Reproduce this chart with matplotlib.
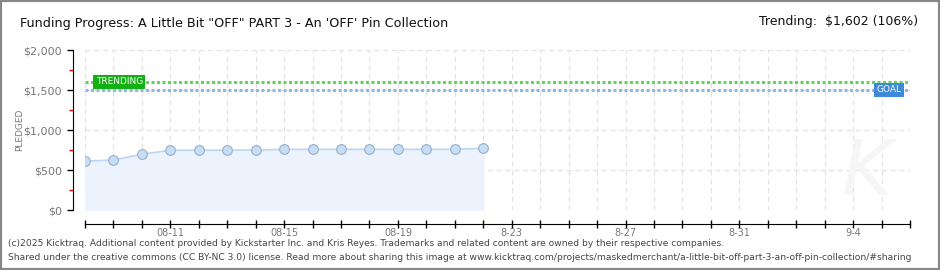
import matplotlib
matplotlib.use("Agg")
import matplotlib.pyplot as plt
import pandas as pd
from matplotlib.patches import Rectangle

# data
dates = pd.date_range("2025-08-08", "2025-08-22", freq="D")
pledged = [610, 625, 697, 747, 747, 747, 750, 758, 758, 758, 758, 758, 758, 758, 771]
goal = 1500
trending = 1602
x_start, x_end = pd.Timestamp("2025-08-08"), pd.Timestamp("2025-09-06")
label_days = ["2025-08-11", "2025-08-15", "2025-08-19", "2025-08-23",
              "2025-08-27", "2025-08-31", "2025-09-04"]
label_text = ["08-11", "08-15", "08-19", "8-23", "8-27", "8-31", "9-4"]

plt.rcParams["font.family"] = ["DejaVu Sans"]

fig = plt.figure(figsize=(9.4, 2.7), dpi=100)
ax = fig.add_axes([85 / 940, 60 / 270, 825 / 940, 160 / 270])

# grid
all_days = pd.date_range(x_start, x_end, freq="D")
ax.set_xticks(all_days)
ax.set_xticklabels(["" for _ in all_days])
ax.set_yticks([0, 500, 1000, 1500, 2000])
ax.set_yticklabels(["$0", "$500", "$1,000", "$1,500", "$2,000"])
ax.set_yticks([250, 750, 1250, 1750], minor=True)
ax.grid(True, color="#e2e2e2", linestyle=(0, (4, 3)), linewidth=0.9)
ax.set_axisbelow(True)

# series
ax.fill_between(dates, pledged, 0, color="#edf3fc", zorder=2)
ax.plot(dates, pledged, color="#bcd5f0", lw=1.2, zorder=3)
ax.plot(dates, pledged, "o", ms=7, mfc="#c6ddf6", mec="#9ab0c8", mew=0.8, zorder=4)

ax.axhline(trending, color="#62d45f", lw=2.2, linestyle=(0, (1, 0.8)), zorder=3)
ax.axhline(goal, color="#8fb8e8", lw=2.2, linestyle=(0, (1, 0.8)), zorder=3)

ax.text(pd.Timestamp("2025-08-08 09:00"), trending, "TRENDING", color="white",
        fontsize=6.5, va="center", ha="left", zorder=5,
        bbox=dict(boxstyle="square,pad=0.25", fc="#12b012", ec="none"))
ax.text(pd.Timestamp("2025-09-05 17:00"), goal, "GOAL", color="white",
        fontsize=6.5, va="center", ha="right", zorder=5,
        bbox=dict(boxstyle="square,pad=0.3", fc="#3d8ada", ec="none"))

ax.set_xlim(x_start, x_end)
ax.set_ylim(0, 2000)

for s in ["top", "right"]:
    ax.spines[s].set_visible(False)
ax.spines["left"].set_position(("outward", 9))
ax.spines["bottom"].set_position(("outward", 10))
ax.spines["left"].set_bounds(0, 2000)
ax.tick_params(axis="y", which="major", direction="out", length=4, width=1,
               colors="black", labelcolor="#777777", labelsize=8)
ax.tick_params(axis="y", which="minor", direction="out", length=3, width=1,
               colors="#e00000")
ax.tick_params(axis="x", which="major", direction="inout", length=6, width=1)

for d, t in zip(label_days, label_text):
    ax.annotate(t, (pd.Timestamp(d), 0), xycoords=("data", "axes fraction"),
                xytext=(0, -16.5), textcoords="offset points", ha="center",
                va="center", fontsize=7, color="#777777")

ax.set_ylabel("PLEDGED", color="#777777", fontsize=6.5)
ax.yaxis.set_label_coords(-0.074, 0.5)

# watermark
ax.text(pd.Timestamp("2025-09-04 12:00"), 450, "K", fontsize=55, style="italic",
        color="#f6f6f6", ha="center", va="center", zorder=1)

fig.text(20 / 940, 1 - 23 / 270, "Funding Progress: A Little Bit \"OFF\" PART 3 - An 'OFF' Pin Collection",
         fontsize=9.2, va="center", ha="left", color="#111111")
fig.text(918 / 940, 1 - 22 / 270, "Trending:  $1,602 (106%)", fontsize=9,
         va="center", ha="right", color="#111111")

fig.text(8 / 940, 1 - 243 / 270,
         "(c)2025 Kicktraq. Additional content provided by Kickstarter Inc. and Kris Reyes. "
         "Trademarks and related content are owned by their respective companies.",
         fontsize=6.6, color="#444444", va="center")
fig.text(8 / 940, 1 - 257 / 270,
         "Shared under the creative commons (CC BY-NC 3.0) license. Read more about sharing this image at "
         "www.kicktraq.com/projects/maskedmerchant/a-little-bit-off-part-3-an-off-pin-collection/#sharing",
         fontsize=6.6, color="#444444", va="center")

fig.patches.append(Rectangle((0, 0), 1, 1, transform=fig.transFigure, fill=False,
                             ec="#888888", lw=3))

fig.savefig("out.png", dpi=100)
